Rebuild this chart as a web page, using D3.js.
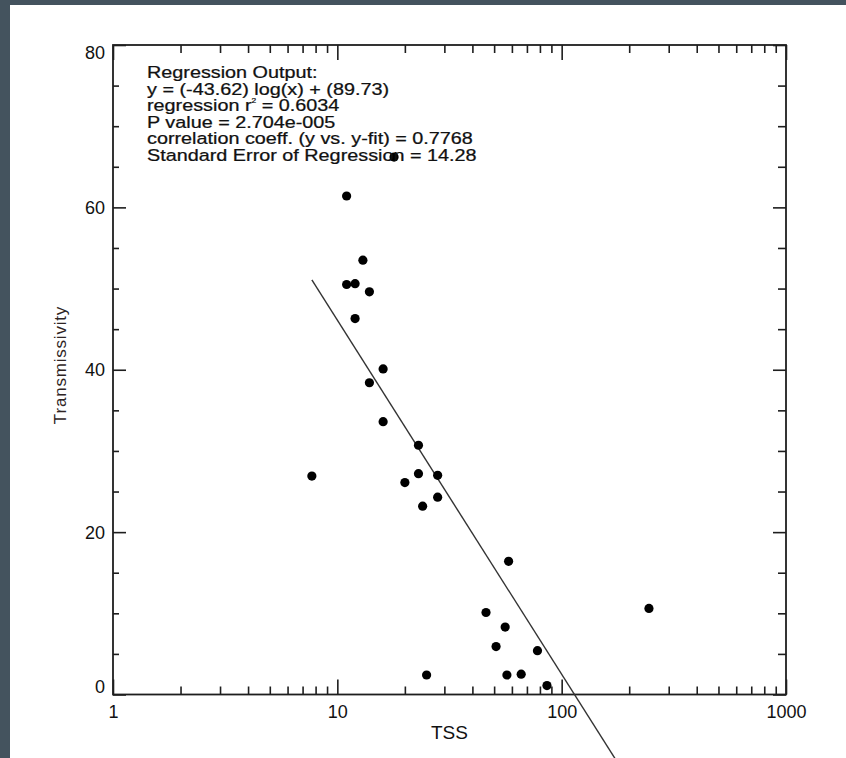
<!DOCTYPE html>
<html>
<head>
<meta charset="utf-8">
<script src="https://cdn.jsdelivr.net/npm/d3@7"></script>
<style>
  html, body { margin: 0; padding: 0; background: #44535e; }
  svg { display: block; }
  text { font-family: "Liberation Sans", Arial, sans-serif; }
</style>
</head>
<body>
<svg id="chart" width="846" height="758"></svg>
<script>
// ---- data ----
const tss = [17.9, 11.0, 13.0, 11.0, 12.0, 13.9, 12.0, 16.0, 13.9, 16.0, 23.0, 7.7, 23.0, 28.0, 20.0, 28.0, 24.0, 58.0, 245.0, 46.0, 56.0, 51.0, 78.0, 57.0, 66.0, 86.0, 25.0];
const transmissivity = [66.2, 61.4, 53.5, 50.5, 50.6, 49.6, 46.3, 40.1, 38.4, 33.6, 30.7, 26.9, 27.2, 27.0, 26.1, 24.3, 23.2, 16.4, 10.6, 10.1, 8.3, 5.9, 5.4, 2.4, 2.5, 1.1, 2.4];
const fitSlope = -43.62;
const fitIntercept = 89.73;
const xMajorTicks = [1, 10, 100, 1000];
const xTickLabels = ["1", "10", "100", "1000"];
const yMajorTicks = [0, 20, 40, 60, 80];
const yMinorTicks = [5, 10, 15, 25, 30, 35, 45, 50, 55, 65, 70, 75];
const xMinorTicks = [2,3,4,5,6,7,8,9,20,30,40,50,60,70,80,90,200,300,400,500,600,700,800,900];
const regressionLines = [
  "Regression Output:",
  "y = (-43.62) log(x) + (89.73)",
  "regression r|2| = 0.6034",
  "P value = 2.704e-005",
  "correlation coeff. (y vs. y-fit) = 0.7768",
  "Standard Error of Regression = 14.28"
];
const xTitle = "TSS";
const yTitle = "Transmissivity";

// ---- layout ----
const svg = d3.select("#chart");
svg.append("rect").attr("x", 10).attr("y", 5).attr("width", 836).attr("height", 753).attr("fill", "#ffffff");

const L = 113, R = 786, T = 45, B = 694.5;
const x = d3.scaleLog().domain([1, 1000]).range([L, R]);
const y = d3.scaleLinear().domain([0, 80]).range([B, T]);
const ink = "#1e1e1e";

function styleAxis(g) {
  g.select(".domain").remove();
  g.selectAll(".tick line").attr("stroke", ink).attr("stroke-width", 1.6);
  g.selectAll("text").attr("fill", "#111").attr("font-size", 18)
    .attr("font-family", "Liberation Sans, Arial, sans-serif");
}

// bottom
svg.append("g").attr("transform", `translate(0,${B})`)
  .call(d3.axisBottom(x).tickValues(xMinorTicks).tickSize(-8).tickFormat(""))
  .call(styleAxis);
svg.append("g").attr("transform", `translate(0,${B})`)
  .call(d3.axisBottom(x).tickValues(xMajorTicks).tickSize(-15).tickPadding(11)
        .tickFormat((d, i) => xTickLabels[i]))
  .call(styleAxis);
// top
svg.append("g").attr("transform", `translate(0,${T})`)
  .call(d3.axisTop(x).tickValues(xMinorTicks).tickSize(-8).tickFormat(""))
  .call(styleAxis);
svg.append("g").attr("transform", `translate(0,${T})`)
  .call(d3.axisTop(x).tickValues(xMajorTicks).tickSize(-15).tickFormat(""))
  .call(styleAxis);
// left
svg.append("g").attr("transform", `translate(${L},0)`)
  .call(d3.axisLeft(y).tickValues(yMinorTicks).tickSize(-6).tickFormat(""))
  .call(styleAxis);
const yAxisG = svg.append("g").attr("transform", `translate(${L},0)`)
  .call(d3.axisLeft(y).tickValues(yMajorTicks).tickSize(-13).tickPadding(8).tickFormat(d3.format("d")))
  .call(styleAxis);
yAxisG.selectAll(".tick text").attr("dy", d => d === 0 ? "-0.1em" : d === 80 ? "0.75em" : "0.34em");
// right
svg.append("g").attr("transform", `translate(${R},0)`)
  .call(d3.axisRight(y).tickValues(yMinorTicks).tickSize(-8).tickFormat(""))
  .call(styleAxis);
svg.append("g").attr("transform", `translate(${R},0)`)
  .call(d3.axisRight(y).tickValues(yMajorTicks).tickSize(-13).tickFormat(""))
  .call(styleAxis);

// frame
svg.append("rect").attr("x", L).attr("y", T).attr("width", R - L).attr("height", B - T)
  .attr("fill", "none").attr("stroke", ink).attr("stroke-width", 1.8);

// regression line
const xFit = [d3.min(tss), d3.max(tss)];
svg.append("line")
  .attr("x1", x(xFit[0])).attr("y1", y(fitSlope * Math.log10(xFit[0]) + fitIntercept))
  .attr("x2", x(xFit[1])).attr("y2", y(fitSlope * Math.log10(xFit[1]) + fitIntercept))
  .attr("stroke", "#333").attr("stroke-width", 1.4);

// points
svg.append("g").selectAll("circle").data(tss).join("circle")
  .attr("cx", d => x(d)).attr("cy", (d, i) => y(transmissivity[i]))
  .attr("r", 4.6).attr("fill", "#000");

// regression text block (horizontally widened like the original hardware font)
const tb = svg.append("text").attr("font-size", 16.5).attr("fill", "#111")
  .attr("stroke", "#111").attr("stroke-width", 0.25)
  .attr("transform", "translate(147,0) scale(1.2,1)");
regressionLines.forEach((line, i) => {
  const parts = line.split("|");
  tb.append("tspan").attr("x", 0).attr("y", 78.5 + i * 16.45).text(parts[0]);
  if (parts.length > 1) {
    tb.append("tspan").attr("font-size", 7).attr("dy", -8).text(parts[1]);
    tb.append("tspan").attr("dy", 8).text(parts[2]);
  }
});

// titles
svg.append("text").attr("x", (L + R) / 2).attr("y", 739).attr("text-anchor", "middle")
  .attr("font-size", 19).attr("fill", "#111").text(xTitle);
svg.append("text").attr("transform", `translate(66,${365}) rotate(-90)`).attr("text-anchor", "middle")
  .attr("font-size", 17).attr("letter-spacing", 0.8).attr("fill", "#2e2424").text(yTitle);
</script>
</body>
</html>
